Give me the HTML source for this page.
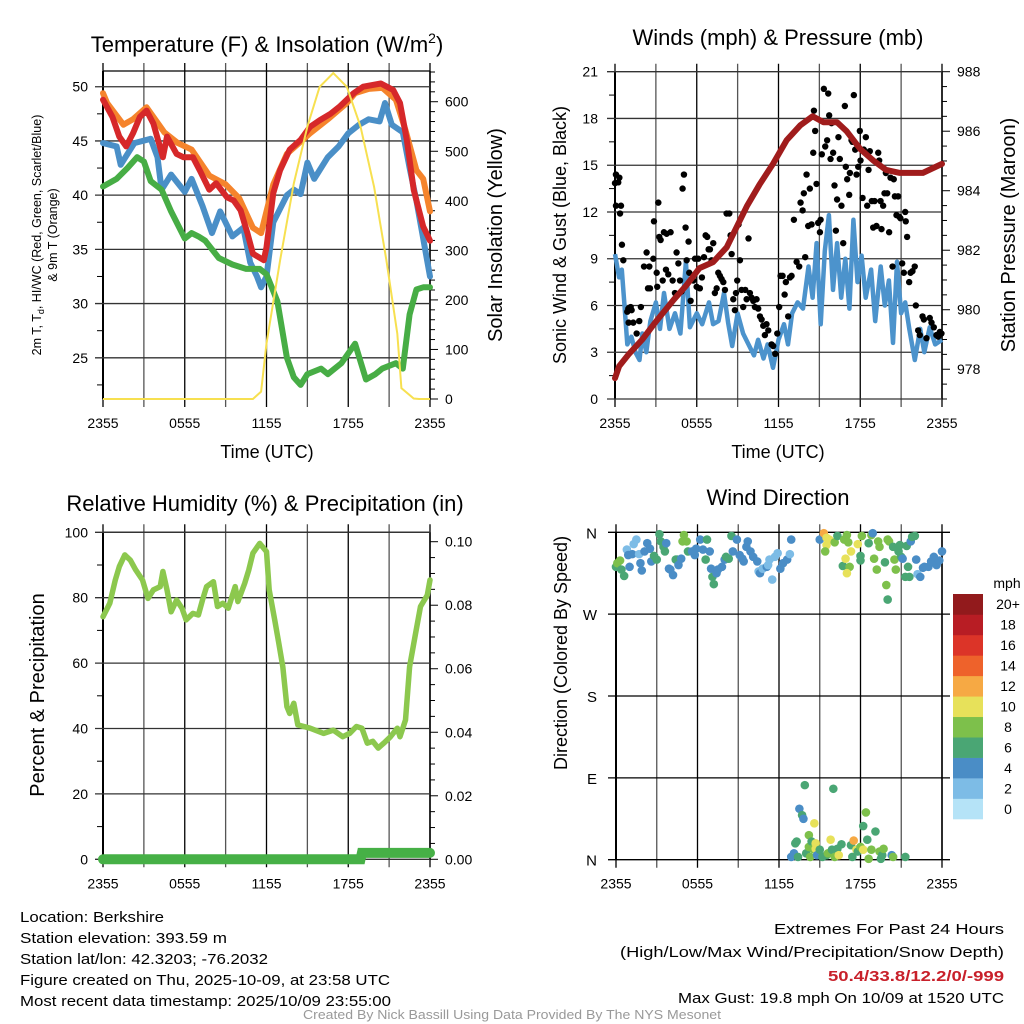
<!DOCTYPE html>
<html><head><meta charset="utf-8"><style>
html,body{margin:0;padding:0;background:#fff}
svg{display:block;font-family:"Liberation Sans",sans-serif}
</style></head><body>
<svg id="chart" width="1024" height="1024" viewBox="0 0 1024 1024" xmlns="http://www.w3.org/2000/svg">
<rect width="1024" height="1024" fill="#fff"/>
<g id="g1"></g>
<g id="g2"></g>
<g id="g3"></g>
<g id="g4"></g>
<g id="foot" font-family="'Liberation Sans Narrow','Liberation Sans',sans-serif" font-size="15" fill="#000">
<text x="20" y="922" textLength="144" lengthAdjust="spacingAndGlyphs">Location: Berkshire</text>
<text x="20" y="943" textLength="207" lengthAdjust="spacingAndGlyphs">Station elevation: 393.59 m</text>
<text x="20" y="964" textLength="248" lengthAdjust="spacingAndGlyphs">Station lat/lon: 42.3203; -76.2032</text>
<text x="20" y="985" textLength="370" lengthAdjust="spacingAndGlyphs">Figure created on Thu, 2025-10-09, at 23:58 UTC</text>
<text x="20" y="1006" textLength="371" lengthAdjust="spacingAndGlyphs">Most recent data timestamp: 2025/10/09 23:55:00</text>
<text x="774" y="934" textLength="230" lengthAdjust="spacingAndGlyphs">Extremes For Past 24 Hours</text>
<text x="620" y="957" textLength="384" lengthAdjust="spacingAndGlyphs">(High/Low/Max Wind/Precipitation/Snow Depth)</text>
<text x="828" y="981" textLength="176" lengthAdjust="spacingAndGlyphs" fill="#c8202a" font-weight="bold">50.4/33.8/12.2/0/-999</text>
<text x="678" y="1003" textLength="326" lengthAdjust="spacingAndGlyphs">Max Gust: 19.8 mph On 10/09 at 1520 UTC</text>
<text x="303" y="1019" textLength="418" lengthAdjust="spacingAndGlyphs" font-size="13" fill="#999">Created By Nick Bassill Using Data Provided By The NYS Mesonet</text>
</g>
</svg>
<script>
// ---------- DATA ----------
const xTickLabels = ["2355","0555","1155","1755","2355"];
// Temperature panel
const tempTicks = [25,30,35,40,45,50];
const solarTicks = [0,100,200,300,400,500,600];
const redT = [0,48.8,0.7,47.2,1.2,45.4,1.7,44.5,2.2,45.7,2.7,47.2,3.2,47.8,3.7,46.6,4.4,43.5,4.7,45.4,5.4,43.8,5.9,43.5,6.6,43.5,7.1,42.3,7.8,40.5,8.3,41.1,9.1,39.8,9.6,39.5,10.1,38.6,10.6,36.5,11.0,34.6,11.8,34.0,12.0,35.2,12.5,40.2,13.0,42.3,13.7,44.2,14.5,45.1,15.2,46.3,15.9,46.9,16.7,47.5,17.4,48.2,17.9,48.8,18.4,49.4,19.1,50.0,20.4,50.3,21.3,49.7,21.8,48.5,22.3,45.1,22.8,40.5,23.5,37.1,24,35.8];
const orangeT = [0,49.4,0.3,48.5,1.5,46.5,2.2,47.0,3.2,48.1,4.5,45.8,5.5,44.8,6.5,44.2,7.8,41.8,9.0,41.0,10.0,39.7,11.0,37.0,11.6,36.5,12.0,38.5,12.5,41.0,13.5,43.8,15.2,45.7,16.5,47.0,17.9,48.5,18.5,49.4,19.5,49.8,20.5,49.9,21.5,48.8,22.2,46.0,23.0,42.3,23.5,41.5,24,38.5];
const blueT = [0,44.8,1.0,44.5,1.3,42.8,2.3,44.8,3.5,45.2,4.0,43.5,4.3,40.5,5.0,41.9,6.0,40.3,6.5,41.5,7.3,39.0,8.0,36.5,8.6,38.5,9.5,36.2,10.3,37.0,10.8,33.8,11.3,32.5,11.6,31.5,12.0,32.5,12.5,37.5,13.5,40.0,14.0,40.5,14.5,40.1,15.0,43.0,15.5,41.5,16.5,43.5,17.3,44.5,18.0,45.7,18.8,46.5,19.5,47.0,20.3,46.8,20.7,48.5,21.2,46.5,22.0,45.8,22.5,42.5,23.0,39.5,23.5,36.0,24,32.5];
const greenTd = [0,40.8,1.0,41.5,1.8,42.5,2.5,43.5,3.0,43.1,3.5,41.3,4.3,40.5,5.0,38.5,6.0,36.0,6.5,36.5,7.0,36.2,7.5,35.8,8.5,34.2,9.5,33.6,10.5,33.2,11.5,33.2,12.0,32.7,12.8,30.2,13.5,25.0,14.0,23.2,14.5,22.5,15.0,23.5,16.0,24.0,16.5,23.5,17.5,24.5,18.5,26.3,19.3,23.0,20.0,23.5,20.5,24.0,21.5,24.5,22.0,24.0,22.5,29.0,23.0,31.3,23.5,31.5,24,31.5];
const solar = [0,0,11.0,0,11.6,15,12.0,112,13.0,280,14.0,435,15.0,550,15.9,630,16.9,658,17.9,630,18.9,550,19.9,428,20.8,280,21.6,132,21.9,22,22.8,1,23.2,0,24,0];
// Wind panel
const windTicks = [0,3,6,9,12,15,18,21];
const presTicks = [978,980,982,984,986,988];
const pressure = [0,977.7,0.3,978.1,1.0,978.5,2.0,979.0,3.0,979.6,4.3,980.33,5.2,980.8,6.2,981.4,7.2,981.6,8.2,982.1,9.7,983.5,10.6,984.2,11.6,984.9,12.6,985.7,13.6,986.2,14.5,986.5,15.3,986.3,16.3,986.3,17.0,986.0,18.0,985.4,19.0,985.0,19.9,984.7,20.9,984.6,22.6,984.6,24,984.9];
const sonicWind = [0,9.3,0.3,7.8,0.5,8.3,0.7,6,0.9,3.5,1.2,4,1.5,3,1.8,2.5,2,4.2,2.3,3,2.6,5,3,6.2,3.3,4.5,3.6,6.8,4,4.5,4.4,5.5,4.8,4.2,5.2,8.8,5.5,4.6,6,5.5,6.4,4.8,6.9,6.2,7.2,4.8,7.6,5,8,6.8,8.3,4.9,8.6,3.4,9,5.5,9.4,4.2,9.8,3.5,10.2,2.8,10.5,3.8,10.9,2.6,11.2,3.5,11.6,2.0,12,3.8,12.4,4.8,12.7,3.5,13,5.5,13.4,6.2,13.8,5.8,14.2,8.5,14.5,6.5,14.8,10,15.1,4.8,15.4,9.5,15.7,11.8,16,7,16.3,10,16.6,6.5,16.9,9,17.2,5.8,17.5,11.5,17.8,7.5,18.1,9.2,18.4,6.5,18.8,8.3,19.1,5,19.5,8.5,19.8,6,20.1,7.6,20.4,3.6,20.7,8.8,21,5.5,21.3,6.2,21.6,4.5,22,2.5,22.4,4.5,22.7,3.0,23.1,4.6,23.5,3.5,24,3.8];
const gustHours = [0,0.07,0.24,0.32,0.07,0.44,0.37,0.51,0.61,0.9,0.98,1.15,1.22,1.0,1.34,1.59,1.78,1.9,2.13,2.32,2.52,2.42,2.57,2.81,2.86,3.06,3.1,3.18,3.25,3.35,3.5,3.59,3.74,3.79,3.91,4.08,4.23,4.4,4.52,4.65,4.77,4.89,4.96,5.06,5.18,5.26,5.4,5.45,5.55,5.75,5.87,5.99,6.11,6.23,6.38,6.53,6.65,6.77,6.87,6.97,7.09,7.21,7.33,7.46,7.58,7.7,7.82,7.95,8.07,8.19,8.39,8.48,8.56,8.68,8.8,8.88,8.97,9.07,9.17,9.29,9.41,9.56,9.66,9.8,9.9,10.02,10.15,10.27,10.39,10.51,10.64,10.76,10.88,11.0,11.12,11.25,11.49,11.61,11.76,11.91,12.05,12.15,12.3,12.45,12.54,12.71,12.84,12.96,13.13,13.33,13.52,13.62,13.77,13.86,13.96,14.06,14.18,14.3,14.43,14.55,14.6,14.69,14.79,14.91,15.04,15.09,15.18,15.33,15.43,15.57,15.65,15.72,15.82,15.89,16.01,16.11,16.21,16.3,16.4,16.5,16.62,16.75,16.87,16.94,17.04,17.19,17.24,17.36,17.43,17.53,17.63,17.73,17.85,17.97,18.02,18.17,18.26,18.41,18.51,18.61,18.7,18.85,18.95,19.05,19.19,19.32,19.39,19.49,19.56,19.68,19.78,19.88,19.98,20.12,20.22,20.37,20.46,20.54,20.66,20.78,20.86,20.95,21.08,21.2,21.3,21.34,21.44,21.59,21.69,21.83,22.0,22.08,22.25,22.37,22.57,22.67,22.86,23.1,23.23,23.4,23.59,23.72,23.84,23.96];
const gustMph = [13.85,14.4,13.9,14.2,12.4,12.4,11.9,9.9,8.9,5.6,5.8,5.9,5.7,4.9,4.9,4.2,5.0,5.9,8.5,9.4,8.5,7.1,7.1,9.0,11.4,8.1,7.2,12.6,10.4,10.2,7.6,10.7,8.3,10.6,8.0,10.7,7.6,6.8,9.4,8.7,7.6,6.9,13.5,14.4,11.0,8.9,10.1,8.1,6.3,7.6,9.0,7.2,9.0,7.1,7.8,9.1,10.5,10.4,9.6,9.6,8.9,10.0,6.8,7.1,8.1,7.9,7.7,7.5,7.0,11.9,11.9,10.5,9.3,6.4,5.7,6.8,7.6,11.2,8.9,7.0,5.9,7.0,6.4,10.3,6.8,6.5,6.3,5.9,6.4,5.8,5.3,5.1,4.7,4.1,4.8,4.4,3.5,3.4,2.9,4.2,5.9,7.9,7.9,6.7,7.5,5.3,7.8,7.9,11.5,8.8,8.5,12.6,12.1,13.2,9.1,14.4,11.1,13.5,11.2,15.8,18.5,17.2,13.8,11.3,10.7,11.5,15.7,19.9,16.2,16.6,19.6,18.2,15.4,17.7,15.8,13.7,10.8,12.8,16.8,15.4,12.4,10.0,18.8,14.9,14.1,13.1,14.5,16.6,16.5,19.5,16.0,14.4,14.9,17.2,15.3,12.9,16.0,16.8,12.4,14.7,15.9,12.7,11.0,12.7,11.1,15.8,15.3,12.7,10.9,12.4,13.2,14.5,13.2,10.7,14.2,8.5,14.1,13.0,11.8,13.0,11.7,11.6,8.7,8.1,12.0,11.4,10.4,7.5,8.1,8.2,8.5,6.0,4.4,4.1,5.3,5.1,3.9,5.2,4.9,4.6,4.1,4.0,4.3,4.2];
// Humidity panel
const rhTicks = [0,20,40,60,80,100];
const precipTicks = ["0.00","0.02","0.04","0.06","0.08","0.10"];
const rh = [0,74.2,0.5,78.3,0.9,85.4,1.2,89.5,1.6,93.1,2.0,91.5,2.4,88.5,2.9,85.4,3.3,79.8,3.7,82.4,4.2,83.4,4.4,88,4.7,82.4,5.0,75.7,5.4,79.3,5.8,76.8,6.1,73.2,6.6,75.2,7.0,74.7,7.3,79.3,7.6,83.4,8.1,84.9,8.4,77.3,8.8,78.3,9.2,76.8,9.7,83.4,9.9,78.8,10.4,84.4,10.7,88.5,11.0,93.6,11.5,96.6,12.0,94.1,12.2,82.4,12.6,73.2,12.9,66.1,13.2,58.9,13.5,46.7,13.7,44.6,14.0,47.7,14.3,41.1,15.2,40.1,16.2,38.5,16.9,39.5,17.6,37.5,18.1,38.5,18.6,40.6,19.0,40.1,19.4,35.5,19.8,36.1,20.2,34.0,20.6,35.5,21.1,37.5,21.6,40.1,21.8,37.5,22.2,42.6,22.5,58.9,22.9,68.1,23.3,77.3,23.8,80.8,24,85.4];
const precip = [0,0,18.9,0,19.0,0.002,24,0.002];
// Wind direction panel
const dirLabels = ["N","E","S","W","N"];
const dirHours = [0.0,0.1,0.3,0.4,0.6,0.8,0.9,1.0,1.2,1.3,1.5,1.7,1.8,1.9,2.1,2.3,2.5,2.6,2.8,3.0,3.2,3.3,3.5,3.6,3.7,3.9,4.0,4.2,4.4,4.5,4.6,4.8,5.0,4.9,5.2,5.3,5.6,5.8,5.9,6.2,6.4,6.6,6.7,6.9,7.0,7.1,7.2,7.4,7.5,7.8,8.0,8.1,8.3,8.5,8.6,8.9,9.1,9.3,9.4,9.6,9.7,9.9,10.1,10.4,10.5,10.6,10.8,11.1,11.2,11.3,11.5,11.7,11.9,12.1,12.3,12.6,12.8,12.9,
15.0,15.3,15.5,15.5,15.4,15.7,16.1,16.3,16.7,16.8,16.9,17.0,17.1,17.2,17.0,17.3,17.8,18.0,18.0,18.1,18.6,18.8,18.9,19.0,19.2,19.3,19.4,19.8,19.9,20.0,20.0,20.1,20.4,20.5,20.6,20.8,20.9,21.0,21.1,21.3,21.4,21.5,21.6,21.7,21.8,22.0,22.1,22.2,22.4,22.6,22.7,23.0,23.2,23.4,23.6,23.8,24.0,
12.9,13.1,13.2,13.3,13.4,13.5,13.7,13.8,13.9,14.0,14.2,14.2,14.3,14.4,14.5,14.6,14.7,14.7,14.8,15.0,15.2,15.5,15.6,15.8,15.9,16.0,16.1,16.3,16.4,16.6,17.3,17.4,17.5,17.7,17.8,18.0,18.2,18.2,18.4,18.5,18.6,18.8,19.1,19.4,19.5,19.6,19.7,20.3,20.4,21.3];
const dirDeg = [322,326,329,319,312,341,335,322,336,347,352,336,326,318,339,348,342,328,334,330,358,350,344,339,348,320,319,313,330,330,324,331,357,350,350,339,339,335,342,352,341,330,352,339,320,311,303,315,319,322,330,333,331,356,339,352,335,331,328,344,350,339,333,328,317,315,320,322,324,330,308,333,337,320,326,330,336,352,
352,359,354,346,339,352,349,356,323,352,331,357,349,322,315,339,347,334,329,356,348,357,359,331,319,350,344,327,302,286,352,350,344,330,319,339,346,333,331,311,345,322,311,350,355,356,330,314,311,321,322,322,328,333,324,329,339,
3,7,18,20,3,56,49,45,82,7,14,27,3,20,12,40,18,12,5,11,3,5,7,22,11,78,3,12,5,17,16,3,21,11,9,14,37,11,52,22,1,11,31,9,1,5,12,5,3,3];
const dirSpeed = [7,8,8,7,6,3,5,5,5,3,3,3,5,5,5,5,5,5,6,6,6,6,6,6,5,5,5,5,6,6,5,5,8,8,8,6,5,5,5,5,5,6,6,5,5,6,6,5,5,5,5,6,6,6,5,5,5,5,5,5,5,5,5,5,3,5,3,5,3,3,3,3,3,5,5,5,3,5,
5,13,10,10,8,10,8,6,6,8,10,8,8,8,10,10,10,6,6,8,6,8,5,8,8,8,8,6,8,6,8,8,6,8,8,6,6,6,5,6,6,6,6,5,6,6,5,3,5,5,5,5,5,5,5,5,5,
5,5,6,6,6,5,6,5,6,6,8,8,8,6,8,10,10,10,5,6,6,6,8,10,6,6,8,6,10,6,6,6,13,10,6,8,6,10,8,6,8,8,6,8,6,6,8,5,8,6];
const cbarLabels = ["0","2","4","6","8","10","12","14","16","18","20+"];
const cbarColors = ["#b5e3f7","#7dbce6","#4a8dc6","#4aa674","#7dc04b","#e7e15a","#f6a944","#ee622b","#dc3428","#b81d24","#921a1c"];

// ---------- HELPERS ----------
const NS="http://www.w3.org/2000/svg";
function mk(parent,tag,attrs,text){const e=document.createElementNS(NS,tag);for(const k in attrs)e.setAttribute(k,attrs[k]);if(text!==undefined)e.textContent=text;parent.appendChild(e);return e;}
function lin(d0,d1,r0,r1){return v=>r0+(v-d0)/(d1-d0)*(r1-r0);}
function pairsPath(arr,sx,sy){let d="";for(let i=0;i<arr.length;i+=2){d+=(i?"L":"M")+sx(arr[i]).toFixed(1)+","+sy(arr[i+1]).toFixed(1);}return d;}
function speedColor(s){let i=Math.min(10,Math.max(0,Math.floor(s/2)));return cbarColors[i];}

function frame(g,x0,x1,yT,yB,showTop){
  for(let h=0;h<=24;h+=3){
    const x=x0+(x1-x0)*h/24;
    const l=mk(g,"line",{x1:x,x2:x,y1:yT-8,y2:yB+8,stroke:(h%6===0)?"#000":"#555","stroke-width":1.3});
    
    
  }
  for(let i=0;i<xTickLabels.length;i++){
    const x=x0+(x1-x0)*i/4;
    const t=mk(g,"text",{x:x,y:yB+29,"text-anchor":"middle","font-size":14},xTickLabels[i]);
    
    
  }
  mk(g,"line",{x1:x0,x2:x0,y1:yT,y2:yB,stroke:"#000","stroke-width":2});
  mk(g,"line",{x1:x1,x2:x1,y1:yT,y2:yB,stroke:"#000","stroke-width":1.5});
  if(showTop) mk(g,"line",{x1:x0,x2:x1,y1:yT,y2:yT,stroke:"#000","stroke-width":1.3});
}
function hgrid(g,x0,x1,y,labelTxt,lx){
  const l=mk(g,"line",{x1:x0-8,x2:x1,y1:y,y2:y,stroke:"#333","stroke-width":1.3});
  
  
  const t=mk(g,"text",{x:lx,y:y+5,"text-anchor":"end","font-size":14},labelTxt);
  
  
}
function minorL(g,x,y,len){mk(g,"line",{x1:x,x2:x-len,y1:y,y2:y,stroke:"#000","stroke-width":1});}
function rtick(g,x,y,len,label){mk(g,"line",{x1:x,x2:x+len,y1:y,y2:y,stroke:"#000","stroke-width":1});
  if(label!==undefined){const t=mk(g,"text",{x:x+15,y:y+5,"font-size":14},label);
  
  }}

// ---------- PANEL 1: Temperature ----------
(function(){
  const g=document.getElementById("g1");
  const x0=103,x1=430,yT=71,yB=399;
  const sx=lin(0,24,x0,x1), sy=lin(21.2,51.45,yB,yT), ss=lin(0,662,yB,yT);
  const tt=mk(g,"text",{x:267,y:52,"text-anchor":"middle","font-size":22},"Temperature (F) & Insolation (W/m");
  mk(tt,"tspan",{dy:-9,"font-size":14},"2");
  mk(tt,"tspan",{dy:9,"font-size":22},")");
  
  
  frame(g,x0,x1,yT,yB,true);
  for(const v of tempTicks) hgrid(g,x0,x1,sy(v),String(v),88);
  for(let v=22.5;v<51.4;v+=5) minorL(g,x0,sy(v),6);
  for(let v=0;v<=660;v+=20){ const lab=(v%100===0)?String(v):undefined; rtick(g,x1,ss(v),v%100===0?8:5,lab); }
  const xt=mk(g,"text",{x:267,y:458,"text-anchor":"middle","font-size":18},"Time (UTC)");
  
  
  const yl=mk(g,"text",{transform:"translate(41,235) rotate(-90)","text-anchor":"middle","font-size":12.5},"2m T, T");
  mk(yl,"tspan",{dy:3,"font-size":9},"d");
  mk(yl,"tspan",{dy:-3,"font-size":12.5},", HI/WC (Red, Green, Scarlet/Blue)");
  
  
  const yl2=mk(g,"text",{transform:"translate(57,235) rotate(-90)","text-anchor":"middle","font-size":12.5},"& 9m T (Orange)");
  
  
  const yr=mk(g,"text",{transform:"translate(502,235) rotate(-90)","text-anchor":"middle","font-size":20},"Solar Insolation (Yellow)");
  
  
  const series=[[orangeT,"#f5842c","orange-9m-temp"],[blueT,"#4a8fc7","blue-windchill"],[greenTd,"#47ad45","green-dewpoint"],[redT,"#d6282a","red-temp"]];
  for(const [arr,c,n] of series){
    const p=mk(g,"path",{d:pairsPath(arr,sx,sy),fill:"none",stroke:c,"stroke-width":6,"stroke-linejoin":"round","stroke-linecap":"round"});
    
    
  }
  const sp=mk(g,"path",{d:pairsPath(solar,sx,ss),fill:"none",stroke:"#f7e050","stroke-width":2});
  
  
})();

// ---------- PANEL 2: Wind ----------
(function(){
  const g=document.getElementById("g2");
  const x0=615,x1=942,yT=71.7,yB=399;
  const sx=lin(0,24,x0,x1), sy=lin(0,21,yB,yT), sp=lin(977,988,yB,yT);
  const tt=mk(g,"text",{x:778,y:45,"text-anchor":"middle","font-size":22},"Winds (mph) & Pressure (mb)");
  
  
  frame(g,x0,x1,yT,yB,false);
  for(const v of windTicks) hgrid(g,x0,x1,sy(v),String(v),598);
  for(let v=1.5;v<21;v+=3) minorL(g,x0,sy(v),6);
  for(let v=977;v<=988.01;v+=0.5){ const maj=Math.abs(v%2)<0.01; rtick(g,x1,sp(v),maj?8:5,maj&&presTicks.includes(v)?String(v):undefined); }
  const xt=mk(g,"text",{x:778,y:458,"text-anchor":"middle","font-size":18},"Time (UTC)");
  
  
  const yl=mk(g,"text",{transform:"translate(566,235) rotate(-90)","text-anchor":"middle","font-size":18},"Sonic Wind & Gust (Blue, Black)");
  
  
  const yr=mk(g,"text",{transform:"translate(1015,235) rotate(-90)","text-anchor":"middle","font-size":20},"Station Pressure (Maroon)");
  
  
  const wl=mk(g,"path",{d:pairsPath(sonicWind,sx,sy),fill:"none",stroke:"#4c93cc","stroke-width":4.5,"stroke-linejoin":"round"});
  
  
  for(let i=0;i<gustHours.length;i++){
    const c=mk(g,"circle",{cx:sx(gustHours[i]),cy:sy(gustMph[i]),r:3.2,fill:"#000"});
    
    
  }
  const pl=mk(g,"path",{d:pairsPath(pressure,sx,sp),fill:"none",stroke:"#a01c1c","stroke-width":6,"stroke-linejoin":"round","stroke-linecap":"round"});
  
  
})();

// ---------- PANEL 3: Humidity ----------
(function(){
  const g=document.getElementById("g3");
  const x0=103,x1=430,yT=532.3,yB=859.3;
  const sx=lin(0,24,x0,x1), sy=lin(0,100,yB,yT), sp=lin(0,0.10,yB,541.7);
  const tt=mk(g,"text",{x:265,y:511,"text-anchor":"middle","font-size":22},"Relative Humidity (%) & Precipitation (in)");
  
  
  frame(g,x0,x1,yT,yB,true);
  for(const v of rhTicks) hgrid(g,x0,x1,sy(v),String(v),88);
  for(let v=10;v<100;v+=20) minorL(g,x0,sy(v),6);
  for(let v=0;v<=0.1001;v+=0.005){ const k=Math.round(v*1000); const maj=k%20===0; rtick(g,x1,sp(v),maj?8:5,maj?precipTicks[k/20]:undefined); }
  const yl=mk(g,"text",{transform:"translate(44,695) rotate(-90)","text-anchor":"middle","font-size":20},"Percent & Precipitation");
  
  
  const pr=mk(g,"path",{d:pairsPath(precip,sx,sp),fill:"none",stroke:"#46b046","stroke-width":10,"stroke-linecap":"round"});
  
  
  const rl=mk(g,"path",{d:pairsPath(rh,sx,sy),fill:"none",stroke:"#8cc84e","stroke-width":5.5,"stroke-linejoin":"round","stroke-linecap":"round"});
  
  
})();

// ---------- PANEL 4: Wind direction ----------
(function(){
  const g=document.getElementById("g4");
  const x0=616,x1=942,yT=532.3,yB=859.7;
  const sx=lin(0,24,x0,x1), sy=lin(0,360,yB,yT);
  const tt=mk(g,"text",{x:778,y:505,"text-anchor":"middle","font-size":22},"Wind Direction");
  
  
  frame(g,x0,x1,yT,yB,false);
  for(let i=0;i<dirLabels.length;i++){
    const y=sy(i*90);
    const l=mk(g,"line",{x1:x0-8,x2:x1+8,y1:y,y2:y,stroke:"#000","stroke-width":1.3});
    
    
    const t=mk(g,"text",{x:597,y:y+6,"text-anchor":"end","font-size":15},dirLabels[i]);
    
    
  }
  const yl=mk(g,"text",{transform:"translate(567,653) rotate(-90)","text-anchor":"middle","font-size":18},"Direction (Colored By Speed)");
  
  
  for(let i=0;i<dirHours.length;i++){
    const c=mk(g,"circle",{cx:sx(dirHours[i]),cy:sy(dirDeg[i]),r:4.3,fill:speedColor(dirSpeed[i])});
    
    
  }
  const cb=mk(g,"g",{});
  
  
  const bx=953,bw=30,btop=594,bbot=819,bh=(bbot-btop)/cbarColors.length;
  for(let i=0;i<cbarColors.length;i++){
    const y=bbot-(i+1)*bh;
    const r=mk(cb,"rect",{x:bx,y:y,width:bw,height:bh+0.3,fill:cbarColors[i]});
    
    
    const t=mk(cb,"text",{x:1008,y:y+bh/2+5,"text-anchor":"middle","font-size":14},cbarLabels[i]);
    
    
  }
  const mt=mk(cb,"text",{x:1007,y:588,"text-anchor":"middle","font-size":14},"mph");
  
  
})();
</script>
</body></html>
